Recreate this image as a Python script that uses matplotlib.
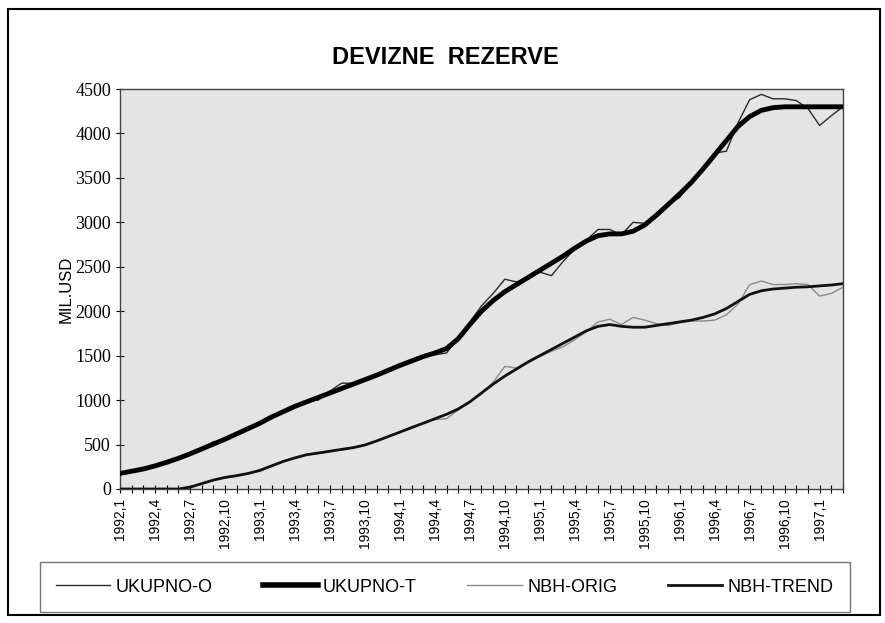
import matplotlib
matplotlib.use("Agg")
import matplotlib.pyplot as plt
from matplotlib.patches import Rectangle
from matplotlib.lines import Line2D
from matplotlib.ticker import MultipleLocator

# Data: monthly, 1992,1 .. 1997,3 (mil. USD)
years = [1992, 1993, 1994, 1995, 1996, 1997]
months = ["%d,%d" % (y, m) for y in years for m in range(1, 13)][:63]

ukupno_o = [170, 195, 230, 255, 300, 340, 400, 455, 530, 545,
            620, 675, 745, 800, 870, 935, 990, 1000, 1100, 1190,
            1190, 1230, 1280, 1340, 1385, 1445, 1490, 1510, 1530, 1700,
            1880, 2060, 2200, 2360, 2330, 2370, 2440, 2400, 2560, 2700,
            2800, 2920, 2920, 2860, 3000, 2990, 3100, 3200, 3280, 3450,
            3620, 3780, 3800, 4120, 4380, 4440, 4390, 4390, 4370, 4280,
            4090, 4200, 4300]

ukupno_t = [175, 200, 225, 260, 300, 345, 395, 450, 505, 560,
            620, 680, 740, 810, 870, 930, 980, 1030, 1080, 1130,
            1180, 1230, 1280, 1335, 1390, 1440, 1490, 1530, 1580, 1690,
            1850, 2000, 2120, 2220, 2300, 2380, 2460, 2540, 2620, 2710,
            2790, 2850, 2870, 2870, 2900, 2970, 3080, 3200, 3320, 3450,
            3600, 3760, 3920, 4080, 4190, 4260, 4290, 4300, 4300, 4300,
            4300, 4300, 4300]

nbh_orig = [0, 0, 0, 0, 0, 0, 30, 60, 100, 125,
            150, 170, 200, 255, 310, 355, 390, 400, 420, 450,
            470, 490, 540, 590, 640, 700, 740, 780, 790, 890,
            980, 1070, 1200, 1380, 1360, 1420, 1490, 1550, 1600, 1680,
            1770, 1880, 1910, 1850, 1930, 1900, 1860, 1840, 1870, 1890,
            1890, 1900, 1960, 2080, 2300, 2340, 2300, 2300, 2310, 2300,
            2170, 2200, 2270]

nbh_trend = [0, 0, 0, 0, 0, 0, 20, 60, 100, 130,
             150, 175, 210, 260, 310, 350, 385, 405, 425, 445,
             465, 495, 540, 590, 640, 690, 740, 790, 840, 900,
             980, 1080, 1180, 1270, 1350, 1430, 1500, 1570, 1640, 1710,
             1780, 1830, 1850, 1830, 1820, 1820, 1840, 1860, 1880, 1900,
             1930, 1970, 2030, 2110, 2190, 2230, 2250, 2260, 2270, 2275,
             2285, 2295, 2310]

sans = ["Liberation Sans", "DejaVu Sans"]
serif = ["Liberation Serif", "DejaVu Serif"]

fig = plt.figure(figsize=(8.85, 6.23), dpi=100)
ax = fig.add_axes([0.1356, 0.2151, 0.8169, 0.6420])
ax.set_facecolor("#e4e4e4")

x = list(range(len(months)))
ax.plot(x, ukupno_o, color="#2a2a2a", lw=1.0, label="UKUPNO-O", zorder=3)
ax.plot(x, ukupno_t, color="black", lw=3.5, label="UKUPNO-T", zorder=4)
ax.plot(x, nbh_orig, color="#8a8a8a", lw=1.0, label="NBH-ORIG", zorder=3)
ax.plot(x, nbh_trend, color="#111111", lw=2.0, label="NBH-TREND", zorder=4)

ax.set_xlim(0, len(months) - 1)
ax.set_ylim(0, 4500)
ax.yaxis.set_major_locator(MultipleLocator(500))
ax.set_xticks(x[::3])
ax.set_xticklabels(months[::3], rotation=90, family=sans, fontsize=10)
ax.xaxis.set_minor_locator(MultipleLocator(1))
ax.tick_params(axis="x", which="both", direction="inout", length=6, width=0.8)
ax.tick_params(axis="y", direction="inout", length=6, width=0.8, labelsize=13)
for lab in ax.get_yticklabels():
    lab.set_family(serif)
for s in ax.spines.values():
    s.set_color("#444444")
    s.set_linewidth(1.0)

ax.set_ylabel("MIL.USD", family=sans, fontsize=12, labelpad=1)
fig.text(0.503, 0.9085, "DEVIZNE  REZERVE", ha="center", va="center",
         family=sans, fontsize=17, fontweight="bold")

# legend along the bottom
leg = fig.legend(handles=[
    Line2D([], [], color="#2a2a2a", lw=1.0),
    Line2D([], [], color="black", lw=4.0),
    Line2D([], [], color="#8a8a8a", lw=1.0),
    Line2D([], [], color="#111111", lw=2.0)],
    labels=["UKUPNO-O", "UKUPNO-T", "NBH-ORIG", "NBH-TREND"],
    loc="lower left", bbox_to_anchor=(0.045, 0.018, 0.915, 0.074),
    mode="expand", ncol=4, frameon=True,
    fancybox=False, edgecolor="#555555",
    handlelength=3.0, handletextpad=0.3, borderpad=0.9, borderaxespad=0.0,
    prop={"family": sans, "size": 13})
leg.get_frame().set_linewidth(1.0)

# outer chart border
fig.patches.append(Rectangle((0.009, 0.013), 0.985, 0.972, transform=fig.transFigure,
                             fill=False, edgecolor="black", lw=1.5))

fig.savefig("out.png", dpi=100)
